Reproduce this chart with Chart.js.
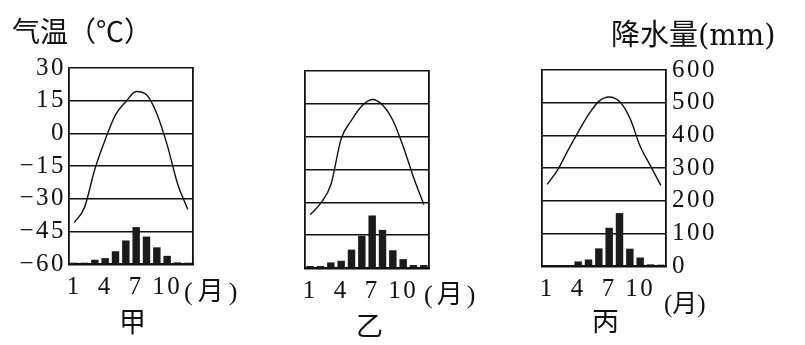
<!DOCTYPE html>
<html>
<head>
<meta charset="utf-8">
<script src="https://cdn.jsdelivr.net/npm/chart.js@4.4.1/dist/chart.umd.min.js"></script>
<style>
  body { margin: 0; background: #fff; }
  #wrap { position: relative; width: 805px; height: 345px; overflow: hidden; }
  #wrap canvas { position: absolute; left: 0; top: 0; }
  .lbl { position: absolute; white-space: nowrap; color: #111; line-height: 1; }
  .cjk { font-family: "Noto Sans CJK SC", sans-serif; }
  .ser { font-family: "Liberation Serif", serif; }
</style>
</head>
<body>
<div id="wrap">
  <canvas id="c1" width="805" height="345"></canvas>
  <canvas id="c2" width="805" height="345"></canvas>
  <canvas id="c3" width="805" height="345"></canvas>

  <div class="lbl cjk" style="left:12px; top:16px; font-size:28px;">气温（℃）</div>
  <div class="lbl" style="left:611px; top:18px; font-size:29px;"><span class="cjk">降水量</span><span style="font-family:'DejaVu Serif',serif; font-size:29px;">(mm)</span></div>

  <div class="lbl" style="left:184px; top:276px; font-size:26px;"><span class="ser">(</span><span class="cjk" style="margin:0 5px 0 5px;">月</span><span class="ser">)</span></div>
  <div class="lbl" style="left:424px; top:279px; font-size:26px;"><span class="ser">(</span><span class="cjk" style="margin:0 4px 0 4px;">月</span><span class="ser">)</span></div>
  <div class="lbl" style="left:664px; top:289px; font-size:25px;"><span class="ser">(</span><span class="cjk">月</span><span class="ser">)</span></div>

  <div class="lbl cjk" style="left:119px; top:307px; font-size:27px;">甲</div>
  <div class="lbl cjk" style="left:356px; top:311px; font-size:27px;">乙</div>
  <div class="lbl cjk" style="left:592px; top:306px; font-size:27px;">丙</div>
</div>

<script>
// months and axis ticks
const months = ['1', '2', '3', '4', '5', '6', '7', '8', '9', '10', '11', '12'];
const shownMonths = ['1', '4', '7', '10'];
const tempTicks = [-60, -45, -30, -15, 0, 15, 30];
const rainTicks = [0, 100, 200, 300, 400, 500, 600];

// 甲
const tempJia = [-41, -34, -16.5, -2.9, 8.5, 14.5, 19.2, 17.7, 9, -5.3, -23, -35];
const rainJia = [4, 4, 13, 18, 39, 72, 113, 84, 51, 25, 5, 4];
// 乙
const tempYi = [-35.6, -30.5, -22, -1, 7.5, 14, 17, 14.5, 7.5, -4.5, -18.5, -31];
const rainYi = [6, 6, 17, 22, 56, 98, 160, 116, 54, 27, 9, 9];
// 丙
const tempBing = [-22.5, -16, -7, 1.5, 9.5, 15.6, 17.6, 15.5, 8, -5, -14, -23];
const rainBing = [3, 3, 3, 14, 20, 54, 117, 162, 53, 26, 5, 4];

const W = 805, H = 345;
const tickFont = { family: 'Liberation Serif', size: 25 };

// widen digits a bit, the scan uses a wide serif face
const spacingPlugin = {
  id: 'spacing',
  beforeLayout(chart) { chart.ctx.letterSpacing = '2.5px'; },
  beforeDraw(chart) { chart.ctx.letterSpacing = '2.5px'; }
};

function makePanel(id, temps, rains, area, showLeft, showRight) {
  new Chart(document.getElementById(id), {
    type: 'bar',
    data: {
      labels: months,
      datasets: [
        {
          type: 'line',
          data: temps,
          yAxisID: 'y',
          borderColor: '#111',
          borderWidth: 1.4,
          pointRadius: 0,
          cubicInterpolationMode: 'monotone',
          fill: false,
          order: 0
        },
        {
          type: 'bar',
          data: rains,
          yAxisID: 'y1',
          backgroundColor: '#1b1b1b',
          barPercentage: 0.72,
          categoryPercentage: 1,
          order: 1
        }
      ]
    },
    options: {
      responsive: false,
      animation: false,
      layout: { padding: { top: area.top, left: 0, right: 0, bottom: 0 } },
      plugins: { legend: { display: false }, tooltip: { enabled: false } },
      scales: {
        x: {
          offset: true,
          grid: { display: false, drawTicks: false },
          border: { display: true, color: '#111', width: 2.5 },
          ticks: {
            autoSkip: false,
            maxRotation: 0,
            padding: 8,
            color: '#111',
            font: tickFont,
            callback: (v, i) => shownMonths.includes(months[i]) ? months[i] : ''
          },
          afterFit: s => { s.height = H - area.bottom; }
        },
        y: {
          position: 'left',
          min: -60,
          max: 30,
          afterBuildTicks: s => { s.ticks = tempTicks.map(v => ({ value: v })); },
          grid: { color: '#111', lineWidth: 1.5, drawTicks: false },
          border: { display: true, color: '#111', width: 1.8 },
          ticks: {
            display: showLeft,
            autoSkip: false,
            padding: 3,
            color: '#111',
            font: tickFont,
            callback: v => v < 0 ? '\u2212' + Math.abs(v) : String(v)
          },
          afterFit: s => { s.width = area.left; }
        },
        y1: {
          position: 'right',
          min: 0,
          max: 600,
          afterBuildTicks: s => { s.ticks = rainTicks.map(v => ({ value: v })); },
          grid: { drawOnChartArea: false, drawTicks: false },
          border: { display: true, color: '#111', width: 1.8 },
          ticks: {
            display: showRight,
            autoSkip: false,
            padding: 6,
            color: '#111',
            font: tickFont
          },
          afterFit: s => { s.width = W - area.right; }
        }
      }
    },
    plugins: [spacingPlugin]
  });
}

makePanel('c1', tempJia, rainJia, { left: 69, right: 193, top: 68, bottom: 264 }, true, false);
makePanel('c2', tempYi, rainYi, { left: 305, right: 429, top: 71, bottom: 268 }, false, false);
makePanel('c3', tempBing, rainBing, { left: 542, right: 666, top: 70, bottom: 266 }, false, true);
</script>
</body>
</html>
